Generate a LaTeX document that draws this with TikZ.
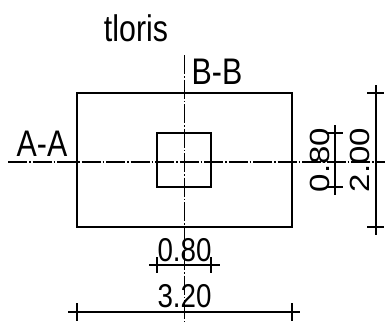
\documentclass[tikz,border=0pt]{standalone}
\usepackage{fontspec}
\setmainfont{Liberation Sans}
\begin{document}
\begin{tikzpicture}[x=1pt,y=-1pt,
  outline/.style={line width=1.5pt,black},
  dimline/.style={line width=1.6pt,black},
  centre/.style={line width=1.4pt,black,dash pattern=on 19pt off 2pt on 1.5pt off 2pt},
  label/.style={inner sep=0pt,anchor=center,font=\fontsize{37}{37}\selectfont,black,xscale=0.82},
  dimtext/.style={inner sep=0pt,anchor=center,font=\fontsize{33}{33}\selectfont,black,xscale=0.84}]
\useasboundingbox (0,0) rectangle (385,322);
% centre lines
\coordinate (hl) at (8,162); \coordinate (hr) at (385,162);
\coordinate (vt) at (184.5,55); \coordinate (vb) at (184.5,322);
\draw[centre] (hl) -- (hr);
\draw[centre] (vt) -- (vb);
% outlines
\node[draw,outline,minimum width=215pt,minimum height=134pt,inner sep=0pt] (outer) at (184.5,160) {};
\node[draw,outline,minimum width=54pt,minimum height=54pt,inner sep=0pt] (inner) at (184,160) {};
% labels
\node[label] (title) at (136,28) {tloris};
\node[label] (aa) at (42,144) {A-A};
\node[label] (bb) at (217,72) {B-B};
% bottom dimensions
\coordinate (a1) at (149,265); \coordinate (a2) at (220,265);
\coordinate (a3) at (157,257); \coordinate (a4) at (157,273);
\coordinate (a5) at (211,257); \coordinate (a6) at (211,273);
\draw[dimline] (a1) -- (a2); \draw[dimline] (a3) -- (a4); \draw[dimline] (a5) -- (a6);
\node[dimtext] (d1) at (184.5,250) {0.80};
\coordinate (b1) at (68,312); \coordinate (b2) at (300,312);
\coordinate (b3) at (77,303); \coordinate (b4) at (77,321);
\coordinate (b5) at (292,303); \coordinate (b6) at (292,321);
\draw[dimline] (b1) -- (b2); \draw[dimline] (b3) -- (b4); \draw[dimline] (b5) -- (b6);
\node[dimtext] (d2) at (184.5,296) {3.20};
% right dimensions
\coordinate (c1) at (335,125); \coordinate (c2) at (335,195);
\coordinate (c3) at (326,133); \coordinate (c4) at (343,133);
\coordinate (c5) at (326,187); \coordinate (c6) at (343,187);
\draw[dimline] (c1) -- (c2); \draw[dimline] (c3) -- (c4); \draw[dimline] (c5) -- (c6);
\node[dimtext,rotate=90] (d3) at (320,160) {0.80};
\coordinate (e1) at (376,85); \coordinate (e2) at (376,235);
\coordinate (e3) at (367,93); \coordinate (e4) at (384,93);
\coordinate (e5) at (367,227); \coordinate (e6) at (384,227);
\draw[dimline] (e1) -- (e2); \draw[dimline] (e3) -- (e4); \draw[dimline] (e5) -- (e6);
\node[dimtext,rotate=90] (d4) at (360,160) {2.00};
\end{tikzpicture}
\end{document}
